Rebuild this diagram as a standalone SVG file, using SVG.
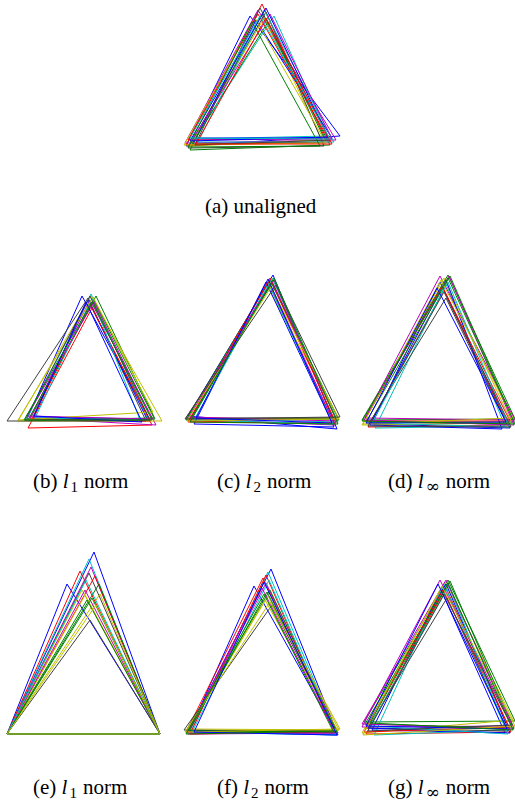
<svg xmlns="http://www.w3.org/2000/svg" width="515" height="804" viewBox="0 0 515 804">
<style>
polygon{fill:none;stroke-width:1;stroke-linejoin:miter}
.b{stroke:#0000ff}.g{stroke:#008000}.r{stroke:#ff0000}.c{stroke:#00bfbf}.m{stroke:#bf00bf}.y{stroke:#bfbf00}.k{stroke:#404040}
text{font-family:"Liberation Serif","Times New Roman",serif;font-size:21px;fill:#000}
.i{font-style:italic}
.s{font-size:15px}
.inf{font-family:"DejaVu Serif","Liberation Serif",serif;font-size:17px}
</style>
<rect width="515" height="804" fill="#fff"/>
<g id="panel-a">
<polygon class="b" points="250,16 186,146 340,136"/>
<polygon class="g" points="262,14 190,150 330,145"/>
<polygon class="r" points="262,4 188,140 325,138"/>
<polygon class="c" points="274,16 194,139 328,136"/>
<polygon class="m" points="258,10 185,143 336,140"/>
<polygon class="y" points="264,18 190,146 322,140"/>
<polygon class="k" points="266,12 188,148 324,146"/>
<polygon class="b" points="256,20 196,138 332,138"/>
<polygon class="g" points="268,22 192,144 326,142"/>
<polygon class="r" points="258,14 186,145 330,142"/>
<polygon class="c" points="264,10 198,142 334,142"/>
<polygon class="m" points="270,14 192,140 332,139"/>
<polygon class="y" points="255,18 184,145 326,143"/>
<polygon class="k" points="260,8 195,145 330,140"/>
<polygon class="b" points="266,8 190,141 328,137"/>
<polygon class="g" points="252,22 188,147 320,146"/>
<polygon class="r" points="266,18 196,144 332,144"/>
<polygon class="c" points="260,16 190,138 330,139"/>
</g>
<g id="panel-b">
<polygon class="b" points="82,296 27,419 150,420"/>
<polygon class="g" points="96,296 30,419 155,419"/>
<polygon class="r" points="92,308 28,428 152,425"/>
<polygon class="c" points="91,294 26,420 148,420"/>
<polygon class="m" points="90,300 30,418 156,425"/>
<polygon class="y" points="91,296 18,421 162,421"/>
<polygon class="k" points="88,298 7,421 146,421"/>
<polygon class="b" points="88,300 33,417 147,419"/>
<polygon class="g" points="94,300 28,420 154,418"/>
<polygon class="r" points="90,304 32,419 150,421"/>
<polygon class="c" points="92,298 35,418 140,420"/>
<polygon class="m" points="94,302 27,416 152,419"/>
<polygon class="y" points="93,297 18,420 153,412"/>
<polygon class="k" points="90,296 25,420 150,420"/>
<polygon class="b" points="86,302 34,416 142,422"/>
<polygon class="g" points="92,302 24,420 152,420"/>
</g>
<g id="panel-c">
<polygon class="b" points="273,275 188,416 337,429"/>
<polygon class="g" points="270,280 186,420 336,418"/>
<polygon class="r" points="268,282 190,421 334,424"/>
<polygon class="c" points="272,278 192,418 338,422"/>
<polygon class="m" points="270,284 190,419 335,425"/>
<polygon class="y" points="268,288 188,419 338,418"/>
<polygon class="k" points="274,280 186,418 333,418"/>
<polygon class="b" points="266,282 194,424 334,427"/>
<polygon class="g" points="272,283 191,418 339,420"/>
<polygon class="r" points="270,278 188,422 336,423"/>
<polygon class="c" points="269,285 194,420 333,424"/>
<polygon class="m" points="272,281 189,417 337,421"/>
<polygon class="y" points="271,287 187,421 339,419"/>
<polygon class="k" points="276,285 185,419 340,417"/>
<polygon class="b" points="268,279 196,418 332,423"/>
<polygon class="g" points="274,278 190,422 338,424"/>
</g>
<g id="panel-d">
<polygon class="b" points="440,282 372,424 510,428"/>
<polygon class="g" points="448,275 362,420 515,419"/>
<polygon class="r" points="444,290 368,427 508,425"/>
<polygon class="c" points="446,284 375,428 505,426"/>
<polygon class="m" points="440,276 365,418 515,420"/>
<polygon class="y" points="444,278 362,425 512,423"/>
<polygon class="k" points="446,298 370,422 507,424"/>
<polygon class="b" points="446,280 370,425 502,429"/>
<polygon class="g" points="450,276 366,422 514,422"/>
<polygon class="r" points="442,286 364,421 510,421"/>
<polygon class="c" points="448,282 372,423 509,427"/>
<polygon class="m" points="449,276 364,420 514,425"/>
<polygon class="y" points="441,280 363,424 513,418"/>
<polygon class="k" points="444,292 368,426 511,427"/>
<polygon class="b" points="437,288 366,423 506,422"/>
<polygon class="g" points="448,278 362,421 515,424"/>
</g>
<g id="panel-e">
<polygon class="b" points="94,552 7,734 160,734"/>
<polygon class="b" points="67,584 7,734 160,734"/>
<polygon class="c" points="89,559 7,734 160,734"/>
<polygon class="r" points="80,571 7,734 160,734"/>
<polygon class="m" points="91,567 7,734 160,734"/>
<polygon class="k" points="89,573 7,734 160,734"/>
<polygon class="r" points="95,576 7,734 160,734"/>
<polygon class="g" points="99,584 7,734 160,734"/>
<polygon class="y" points="82,590 7,734 160,734"/>
<polygon class="y" points="85,595 7,734 160,734"/>
<polygon class="y" points="100,594 7,734 160,734"/>
<polygon class="g" points="87,600 7,734 160,734"/>
<polygon class="k" points="90,620 7,734 160,734"/>
<polygon class="m" points="85,590 7,734 160,734"/>
<polygon class="c" points="86,580 7,734 160,734"/>
<polygon class="g" points="92,598 7,734 160,734"/>
<polygon class="y" points="96,605 7,734 160,734"/>
</g>
<g id="panel-f">
<polygon class="b" points="271,569 188,731 338,735"/>
<polygon class="b" points="254,586 190,730 336,733"/>
<polygon class="r" points="263,578 186,732 334,731"/>
<polygon class="c" points="268,572 190,733 337,734"/>
<polygon class="m" points="266,583 188,734 338,733"/>
<polygon class="g" points="270,590 186,731 335,730"/>
<polygon class="k" points="272,605 184,730 336,731"/>
<polygon class="y" points="265,600 186,733 338,731"/>
<polygon class="y" points="268,596 188,729 339,730"/>
<polygon class="r" points="266,575 190,734 334,732"/>
<polygon class="c" points="269,580 192,732 336,735"/>
<polygon class="m" points="262,588 187,733 335,733"/>
<polygon class="g" points="267,592 189,731 337,732"/>
<polygon class="y" points="270,602 185,732 340,729"/>
<polygon class="b" points="264,582 194,732 337,735"/>
<polygon class="g" points="264,594 186,734 333,731"/>
</g>
<g id="panel-g">
<polygon class="b" points="441,590 372,730 505,733"/>
<polygon class="g" points="448,580 364,722 515,721"/>
<polygon class="r" points="446,588 366,734 511,732"/>
<polygon class="c" points="444,584 374,735 506,730"/>
<polygon class="m" points="440,580 362,727 512,726"/>
<polygon class="y" points="445,582 362,733 513,720"/>
<polygon class="k" points="447,598 368,728 508,731"/>
<polygon class="b" points="446,584 366,728 510,733"/>
<polygon class="g" points="450,581 365,724 514,728"/>
<polygon class="r" points="443,590 364,732 509,727"/>
<polygon class="c" points="449,586 370,726 508,734"/>
<polygon class="m" points="446,580 362,724 514,729"/>
<polygon class="y" points="442,586 363,735 515,726"/>
<polygon class="k" points="444,594 368,731 511,725"/>
<polygon class="b" points="438,584 366,726 507,729"/>
<polygon class="g" points="448,583 370,723 513,730"/>
</g>
<g id="captions">
<text x="205" y="213">(a) unaligned</text>
<text x="33" y="488">(b) <tspan class="i">l</tspan><tspan class="s" dx="2" dy="4">1</tspan><tspan dx="6" dy="-4">norm</tspan></text>
<text x="217" y="488">(c) <tspan class="i">l</tspan><tspan class="s" dx="2" dy="4">2</tspan><tspan dx="6" dy="-4">norm</tspan></text>
<text x="388" y="488">(d) <tspan class="i">l</tspan><tspan class="inf" dx="2" dy="4">∞</tspan><tspan dx="6" dy="-4">norm</tspan></text>
<text x="33" y="794">(e) <tspan class="i">l</tspan><tspan class="s" dx="2" dy="4">1</tspan><tspan dx="6" dy="-4">norm</tspan></text>
<text x="217" y="794">(f) <tspan class="i">l</tspan><tspan class="s" dx="2" dy="4">2</tspan><tspan dx="6" dy="-4">norm</tspan></text>
<text x="388" y="794">(g) <tspan class="i">l</tspan><tspan class="inf" dx="2" dy="4">∞</tspan><tspan dx="6" dy="-4">norm</tspan></text>
</g>
</svg>
